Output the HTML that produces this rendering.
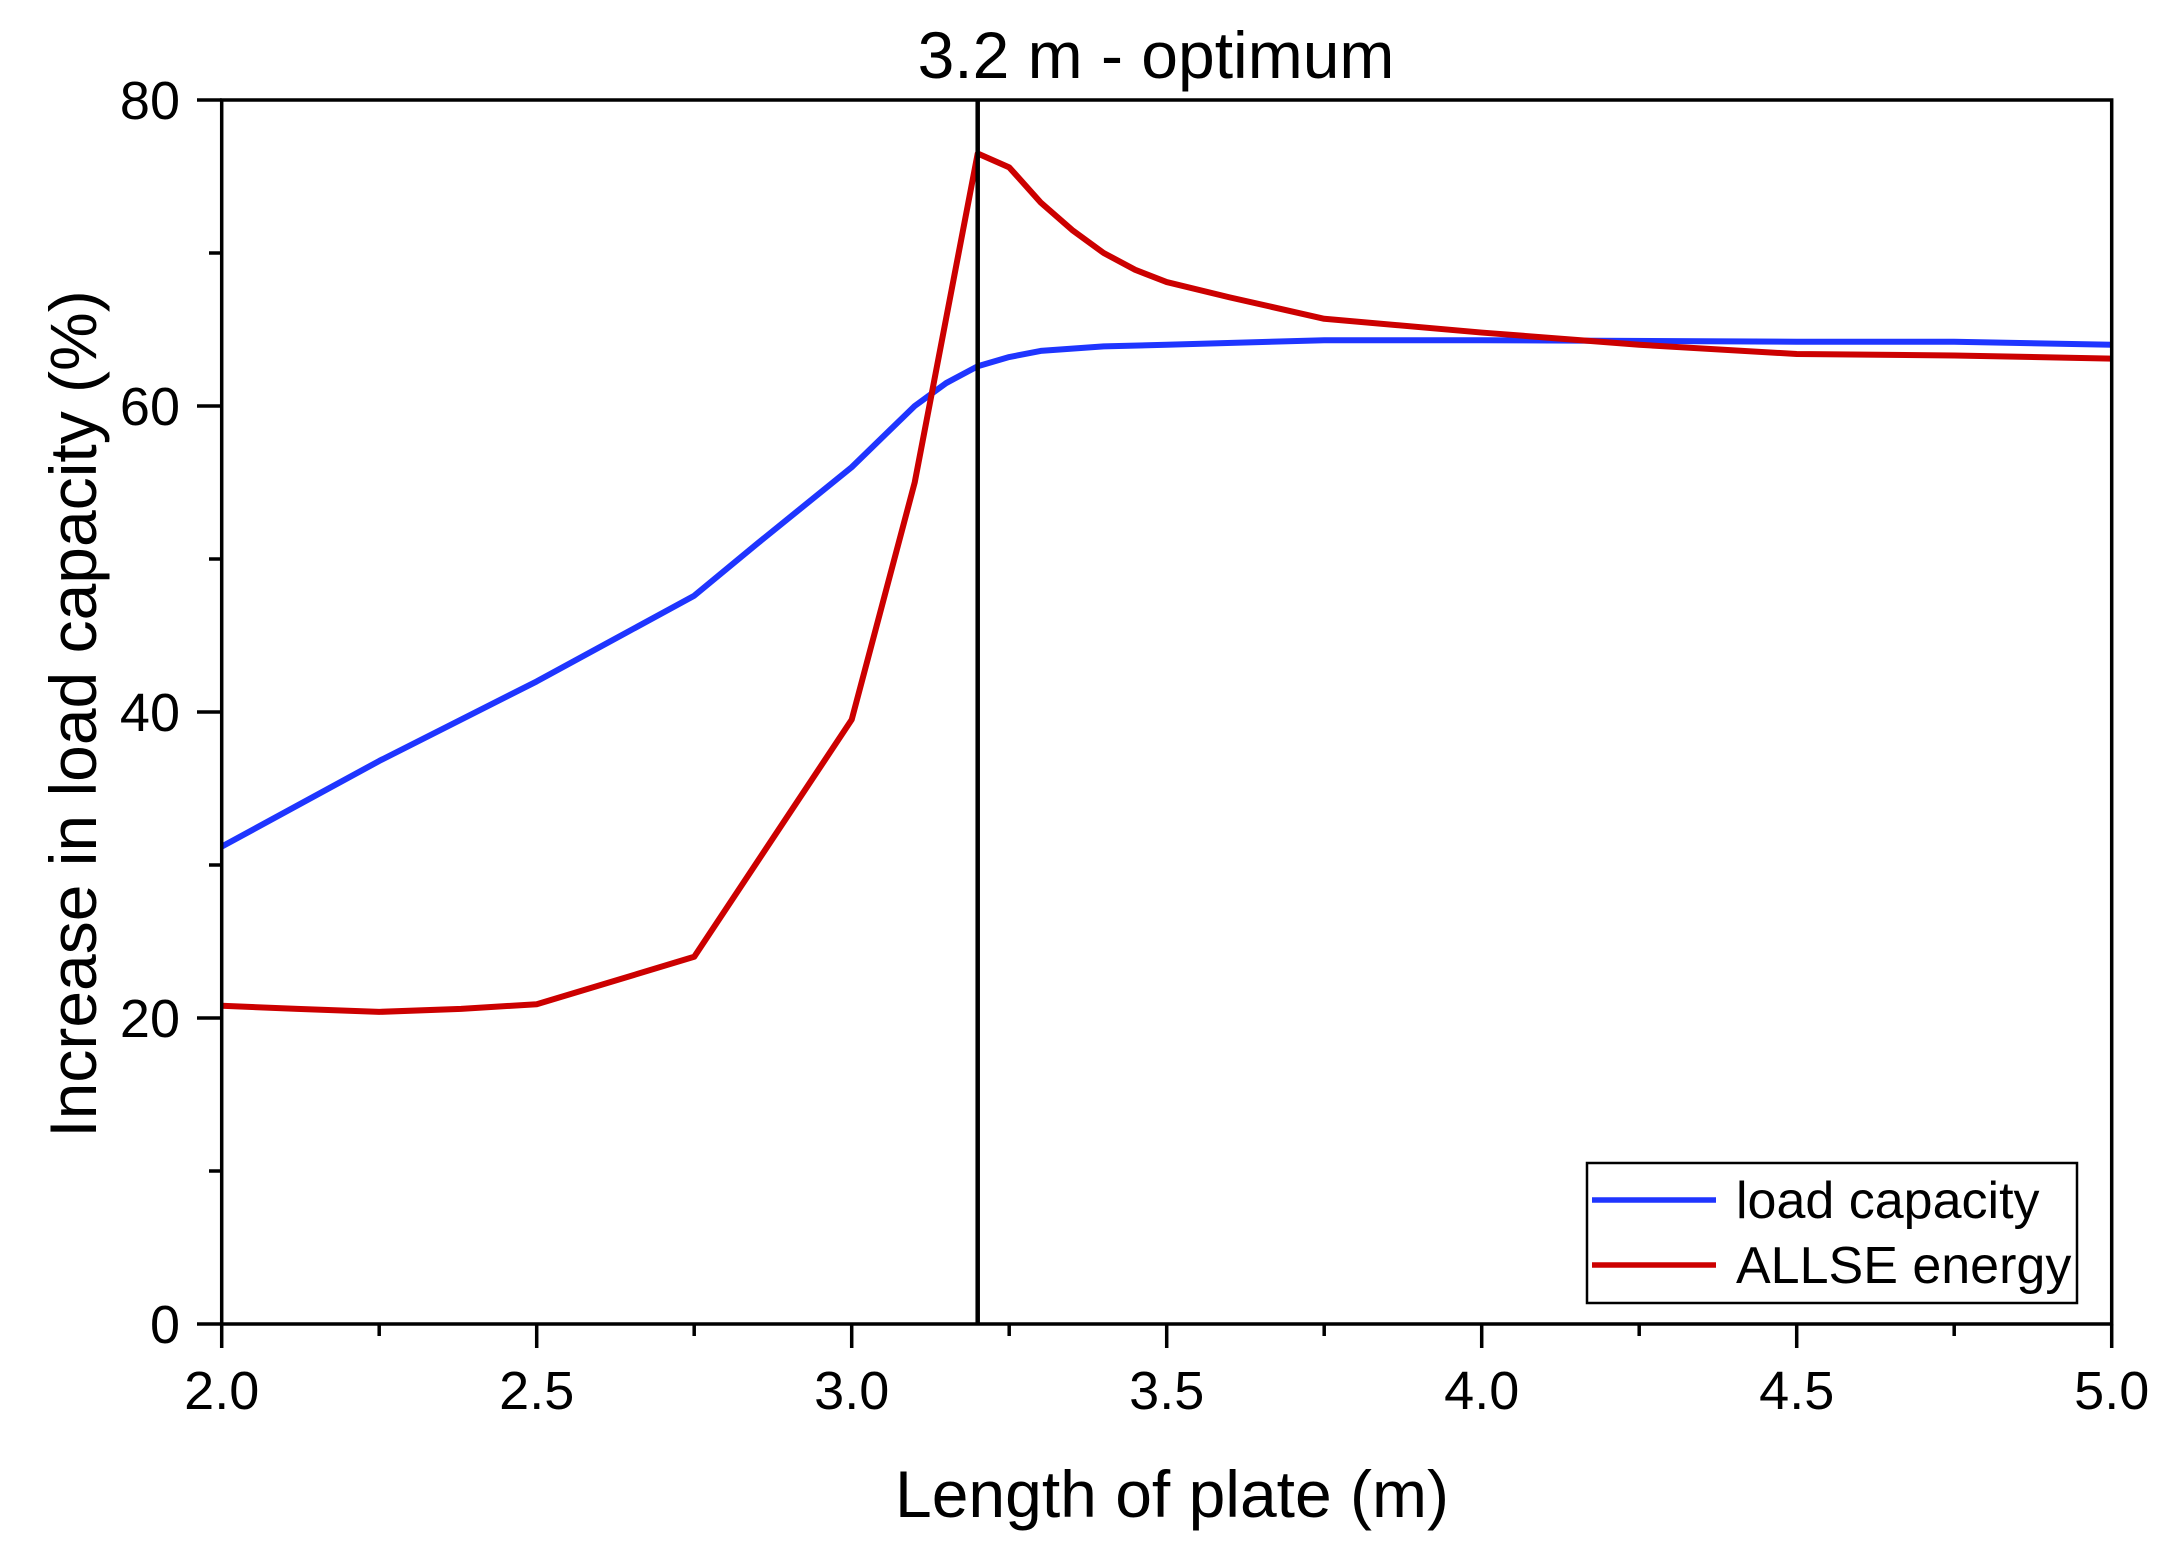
<!DOCTYPE html>
<html><head><meta charset="utf-8"><style>
html,body{margin:0;padding:0;background:#fff;}
svg{display:block;font-family:"Liberation Sans",Arial,sans-serif;}
</style></head><body>
<svg width="2178" height="1541" viewBox="0 0 2178 1541" xmlns="http://www.w3.org/2000/svg">
<rect width="2178" height="1541" fill="#fff"/>
<g transform="translate(221.7,1324) scale(630,-15.3)" fill="none">
<polyline vector-effect="non-scaling-stroke" stroke="#1f35ff" stroke-width="6" stroke-linejoin="round"
points="0,31.2 0.25,36.8 0.5,42 0.75,47.6 0.85,51 1.0,56 1.1,60 1.15,61.5 1.2,62.6 1.25,63.2 1.3,63.6 1.4,63.9 1.5,64 1.75,64.3 2.0,64.3 2.5,64.2 2.75,64.2 3.0,64.0"/>
<polyline vector-effect="non-scaling-stroke" stroke="#cc0000" stroke-width="6" stroke-linejoin="round"
points="0,20.8 0.12,20.6 0.25,20.4 0.38,20.6 0.5,20.9 0.75,24 1.0,39.5 1.1,55 1.2,76.5 1.25,75.6 1.3,73.3 1.35,71.5 1.4,70 1.45,68.9 1.5,68.1 1.6,67.1 1.75,65.7 2.0,64.8 2.25,64 2.5,63.4 2.75,63.3 3.0,63.1"/>
</g>
<line x1="977.7" y1="100" x2="977.7" y2="1324" stroke="#000" stroke-width="4.5"/>
<rect x="221.7" y="100" width="1890" height="1224" fill="none" stroke="#000" stroke-width="3.5"/>
<g stroke="#000" stroke-width="3.5">
<line x1="221.7" y1="1324" x2="221.7" y2="1348"/><line x1="536.7" y1="1324" x2="536.7" y2="1348"/>
<line x1="851.7" y1="1324" x2="851.7" y2="1348"/><line x1="1166.7" y1="1324" x2="1166.7" y2="1348"/>
<line x1="1481.7" y1="1324" x2="1481.7" y2="1348"/><line x1="1796.7" y1="1324" x2="1796.7" y2="1348"/>
<line x1="2111.7" y1="1324" x2="2111.7" y2="1348"/>
<line x1="379.2" y1="1324" x2="379.2" y2="1336"/><line x1="694.2" y1="1324" x2="694.2" y2="1336"/>
<line x1="1009.2" y1="1324" x2="1009.2" y2="1336"/><line x1="1324.2" y1="1324" x2="1324.2" y2="1336"/>
<line x1="1639.2" y1="1324" x2="1639.2" y2="1336"/><line x1="1954.2" y1="1324" x2="1954.2" y2="1336"/>
<line x1="197" y1="1324" x2="221.7" y2="1324"/><line x1="197" y1="1018" x2="221.7" y2="1018"/>
<line x1="197" y1="712" x2="221.7" y2="712"/><line x1="197" y1="406" x2="221.7" y2="406"/>
<line x1="197" y1="100" x2="221.7" y2="100"/>
<line x1="209" y1="1171" x2="221.7" y2="1171"/><line x1="209" y1="865" x2="221.7" y2="865"/>
<line x1="209" y1="559" x2="221.7" y2="559"/><line x1="209" y1="253" x2="221.7" y2="253"/>
</g>
<g font-size="54" text-anchor="middle" fill="#000">
<text x="221.7" y="1409">2.0</text><text x="536.7" y="1409">2.5</text><text x="851.7" y="1409">3.0</text>
<text x="1166.7" y="1409">3.5</text><text x="1481.7" y="1409">4.0</text><text x="1796.7" y="1409">4.5</text>
<text x="2111.7" y="1409">5.0</text>
</g>
<g font-size="54" text-anchor="end" fill="#000">
<text x="180" y="1343">0</text><text x="180" y="1037">20</text><text x="180" y="731">40</text>
<text x="180" y="425">60</text><text x="180" y="119">80</text>
</g>
<text x="1172" y="1517" font-size="66" text-anchor="middle">Length of plate (m)</text>
<text transform="translate(96,714) rotate(-90)" font-size="66" text-anchor="middle">Increase in load capacity (%)</text>
<text x="1156" y="78" font-size="66" text-anchor="middle">3.2 m - optimum</text>
<rect x="1587" y="1163" width="490" height="140" fill="#fff" stroke="#000" stroke-width="2.5"/>
<line x1="1592" y1="1200" x2="1716" y2="1200" stroke="#1f35ff" stroke-width="5.5"/>
<line x1="1592" y1="1265" x2="1716" y2="1265" stroke="#cc0000" stroke-width="5.5"/>
<text x="1736" y="1218" font-size="52">load capacity</text>
<text x="1736" y="1283" font-size="52">ALLSE energy</text>
</svg>
</body></html>
